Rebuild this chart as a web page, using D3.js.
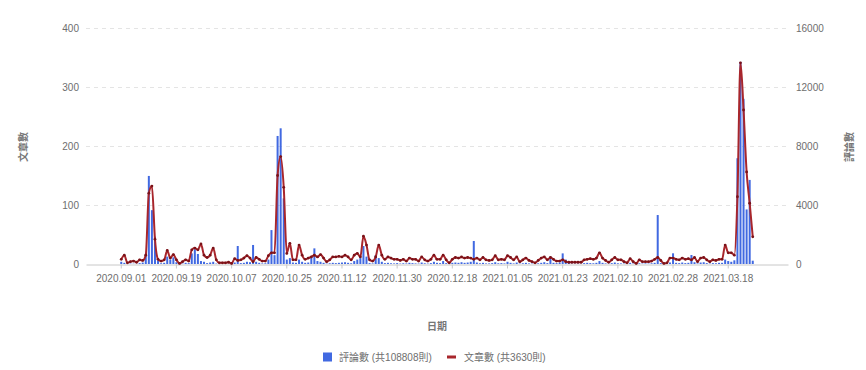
<!DOCTYPE html>
<html>
<head>
<meta charset="utf-8">
<script src="https://cdn.jsdelivr.net/npm/d3@7"></script>
<style>
  body { margin: 0; background: #fff; }
  svg text { font-family: "Liberation Sans", "Noto Sans CJK TC", sans-serif; }
</style>
</head>
<body>
<div id="chart"></div>
<script>
// axis spans a few empty days either side of the data
const axisStart = '2020.08.21';
const axisEnd = '2021.04.06';
const dataStart = '2020.09.01';

const tickLabels = ['2020.09.01', '2020.09.19', '2020.10.07', '2020.10.25', '2020.11.12', '2020.11.30',
    '2020.12.18', '2021.01.05', '2021.01.23', '2021.02.10', '2021.02.28', '2021.03.18'];
const leftTicks = [0, 100, 200, 300, 400];
const rightTicks = [0, 4000, 8000, 12000, 16000];

// 文章數 per day
const articles = [
    8, 15, 2, 4, 5, 3, 7, 6, 15, 120,
    132, 42, 8, 5, 7, 23, 10, 16, 7, 1,
    4, 7, 5, 24, 27, 24, 34, 15, 11, 15,
    27, 7, 2, 2, 2, 3, 1, 9, 6, 7,
    10, 14, 10, 4, 11, 8, 5, 5, 14, 19,
    19, 150, 182, 130, 18, 35, 7, 7, 32, 15,
    8, 10, 12, 15, 12, 16, 10, 4, 7, 12,
    12, 13, 12, 15, 12, 7, 15, 18, 12, 47,
    32, 7, 5, 12, 32, 15, 8, 12, 10, 8,
    8, 6, 8, 5, 10, 8, 8, 5, 12, 7,
    5, 8, 15, 8, 8, 15, 7, 2, 8, 11,
    10, 12, 10, 11, 10, 8, 10, 7, 11, 7,
    6, 7, 14, 7, 8, 7, 14, 11, 7, 12,
    4, 7, 10, 6, 4, 2, 6, 10, 12, 7,
    11, 8, 5, 5, 7, 4, 3, 3, 3, 3,
    3, 7, 8, 9, 8, 10, 19, 10, 6, 3,
    7, 11, 7, 7, 4, 2, 9, 4, 1, 7,
    4, 4, 4, 5, 8, 11, 6, 1, 2, 10,
    10, 8, 7, 10, 8, 9, 7, 11, 4, 10,
    11, 7, 4, 7, 6, 8, 8, 32, 19, 19,
    15, 114, 341, 261, 156, 103, 46
];

// 評論數 per day
const comments = [
    150, 80, 0, 30, 20, 10, 60, 100, 700, 5970,
    3650, 1850, 250, 50, 80, 500, 300, 450, 120, 0,
    30, 80, 60, 720, 1000, 680, 200, 150, 60, 100,
    150, 30, 10, 10, 20, 10, 0, 100, 1220, 60,
    80, 150, 120, 1290, 150, 80, 40, 50, 300, 2300,
    600, 8680, 9200, 4450, 300, 400, 100, 80, 300, 150,
    80, 100, 500, 1060, 200, 150, 80, 30, 50, 80,
    60, 80, 100, 120, 80, 50, 200, 300, 400, 1220,
    500, 60, 40, 610, 400, 150, 60, 80, 50, 40,
    60, 30, 50, 40, 80, 60, 40, 30, 100, 50,
    30, 60, 150, 80, 60, 200, 60, 20, 80, 100,
    80, 120, 80, 100, 150, 1560, 100, 50, 80, 40,
    40, 60, 120, 50, 60, 40, 150, 80, 40, 100,
    30, 50, 80, 40, 30, 20, 50, 80, 120, 60,
    500, 80, 60, 100, 720, 300, 200, 30, 20, 30,
    20, 60, 80, 60, 50, 80, 200, 80, 40, 20,
    60, 100, 50, 40, 30, 20, 80, 30, 10, 50,
    30, 40, 30, 50, 80, 3320, 60, 10, 20, 100,
    725, 80, 60, 100, 60, 80, 610, 120, 40, 100,
    120, 60, 30, 60, 50, 80, 80, 300, 200, 150,
    250, 7170, 13700, 11200, 3700, 5700, 225
];

const commentTotal = 108808;
const articleTotal = 3630;

const width = 866, height = 370;
const margin = { top: 28, right: 78, bottom: 106, left: 86 };
const barColor = '#4169e1';
const lineColor = '#a8262c';
const textColor = '#6e6e6e';

const parse = d3.timeParse('%Y.%m.%d');
const fmt = d3.timeFormat('%Y.%m.%d');
const categories = d3.timeDay.range(parse(axisStart), d3.timeDay.offset(parse(axisEnd), 1)).map(fmt);
const days = d3.timeDay.range(parse(dataStart), d3.timeDay.offset(parse(dataStart), articles.length)).map(fmt);
const data = days.map((d, i) => ({ date: d, articles: articles[i], comments: comments[i] }));

const svg = d3.select('#chart').append('svg')
    .attr('width', width)
    .attr('height', height);

const x = d3.scaleBand()
    .domain(categories)
    .range([margin.left, width - margin.right]);
const cx = d => x(d) + x.bandwidth() / 2;

const yL = d3.scaleLinear().domain([0, 400]).range([height - margin.bottom, margin.top]);
const yR = d3.scaleLinear().domain([0, 16000]).range([height - margin.bottom, margin.top]);

// dashed grid
svg.append('g')
    .selectAll('line')
    .data(leftTicks.slice(1))
    .enter()
    .append('line')
    .attr('x1', margin.left)
    .attr('x2', width - margin.right)
    .attr('y1', d => yL(d) + 0.5)
    .attr('y2', d => yL(d) + 0.5)
    .attr('stroke', '#e4e4e4')
    .attr('stroke-dasharray', '4,4');

// left axis
const gl = svg.append('g')
    .attr('transform', `translate(${margin.left},0)`)
    .call(d3.axisLeft(yL).tickValues(leftTicks).tickSize(0).tickPadding(7));
gl.select('.domain').remove();

// right axis
const gr = svg.append('g')
    .attr('transform', `translate(${width - margin.right},0)`)
    .call(d3.axisRight(yR).tickValues(rightTicks).tickFormat(d3.format('d')).tickSize(0).tickPadding(8));
gr.select('.domain').remove();

// bottom axis
const gx = svg.append('g')
    .attr('transform', `translate(0,${height - margin.bottom + 0.5})`)
    .call(d3.axisBottom(x).tickValues(tickLabels).tickSize(4).tickSizeOuter(0).tickPadding(6));
gx.select('.domain').attr('stroke', '#c8c8c8');
gx.selectAll('.tick line').attr('stroke', '#c8c8c8');

svg.selectAll('.tick text')
    .style('font-size', '10px')
    .attr('fill', textColor);

// bars
svg.append('g')
    .selectAll('rect')
    .data(data)
    .enter()
    .append('rect')
    .attr('x', d => cx(d.date) - 1)
    .attr('width', 2)
    .attr('y', d => yR(d.comments))
    .attr('height', d => yR(0) - yR(d.comments))
    .attr('fill', barColor);

// line
const line = d3.line()
    .x(d => cx(d.date))
    .y(d => yL(d.articles))
    .curve(d3.curveMonotoneX);

svg.append('path')
    .datum(data)
    .attr('d', line)
    .attr('fill', 'none')
    .attr('stroke', lineColor)
    .attr('stroke-width', 2);

svg.append('g')
    .selectAll('circle')
    .data(data)
    .enter()
    .append('circle')
    .attr('cx', d => cx(d.date))
    .attr('cy', d => yL(d.articles))
    .attr('r', 1.4)
    .attr('fill', '#7a1218');

// axis names
svg.append('text')
    .attr('transform', 'translate(27,147) rotate(-90)')
    .attr('text-anchor', 'middle')
    .style('font-size', '10px')
    .style('font-weight', 'bold')
    .attr('fill', '#777')
    .text('文章數');

svg.append('text')
    .attr('transform', 'translate(853,147) rotate(-90)')
    .attr('text-anchor', 'middle')
    .style('font-size', '10px')
    .style('font-weight', 'bold')
    .attr('fill', '#777')
    .text('評論數');

svg.append('text')
    .attr('x', 437)
    .attr('y', 330)
    .attr('text-anchor', 'middle')
    .style('font-size', '10px')
    .style('font-weight', 'bold')
    .attr('fill', '#777')
    .text('日期');

// legend
const legend = svg.append('g').attr('transform', 'translate(323,357)');
legend.append('rect')
    .attr('x', 0).attr('y', -4.5)
    .attr('width', 9).attr('height', 9)
    .attr('fill', barColor);
legend.append('text')
    .attr('x', 16).attr('y', 4)
    .style('font-size', '10px')
    .attr('fill', textColor)
    .text(`評論數 (共${commentTotal}則)`);
legend.append('rect')
    .attr('x', 124).attr('y', -1.5)
    .attr('width', 9).attr('height', 3)
    .attr('fill', lineColor);
legend.append('text')
    .attr('x', 141).attr('y', 4)
    .style('font-size', '10px')
    .attr('fill', textColor)
    .text(`文章數 (共${articleTotal}則)`);
</script>
</body>
</html>
